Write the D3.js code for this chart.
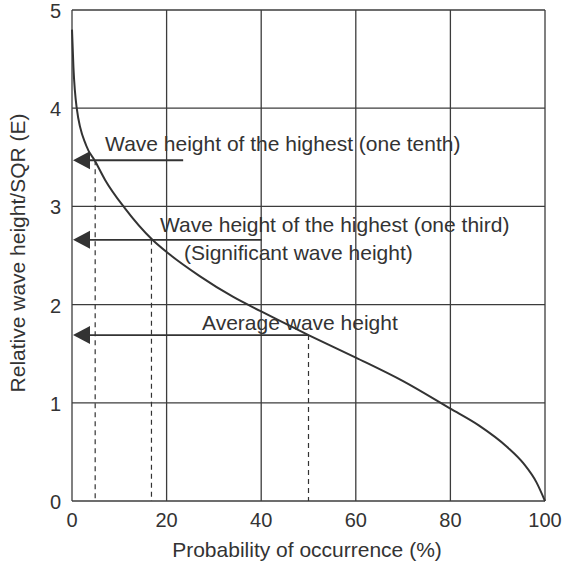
<!DOCTYPE html>
<html>
<head>
<meta charset="utf-8">
<script src="https://cdn.jsdelivr.net/npm/d3@7"></script>
<style>
  html, body { margin: 0; padding: 0; background: #fff; }
  svg { display: block; font-family: "Liberation Sans", Arial, sans-serif; }
</style>
</head>
<body>
<svg id="chart" width="562" height="562"></svg>
<script>
// Curve
const probability = [0, 0.3, 1.0, 3.0, 4.9, 7.0, 11.2, 17.0, 20.4, 27.0, 34.0, 40, 50, 60, 70, 80, 86, 92, 95.5, 98.2, 100];
const waveHeight  = [4.8, 4.42, 4.0, 3.62, 3.46, 3.27, 2.98, 2.66, 2.52, 2.29, 2.08, 1.93, 1.69, 1.46, 1.22, 0.94, 0.77, 0.55, 0.38, 0.19, 0];

const xTicks = [0, 20, 40, 60, 80, 100];
const yTicks = [0, 1, 2, 3, 4, 5];

// Annotations: arrow level, arrow end, dashed line position, text lines
const annLevel  = [3.47, 2.66, 1.69];
const annEnd    = [23.5, 40.1, 50];
const annDash   = [4.9, 16.8, 50];
const annText   = [["Wave height of the highest (one tenth)"],
                   ["Wave height of the highest (one third)", "(Significant wave height)"],
                   ["Average wave height"]];
const annTextX  = [7.0, 18.6, 27.5];
const annTextY  = [3.56, 2.74, 1.74];

const svg = d3.select("#chart");
const x = d3.scaleLinear().domain([0, 100]).range([72, 545]);
const y = d3.scaleLinear().domain([0, 5]).range([501, 10]);

const gridColor = "#3c3c3c";
const ink = "#333";

// grid
const g = svg.append("g");
g.selectAll(".vg").data(xTicks).join("line")
  .attr("x1", d => x(d)).attr("x2", d => x(d))
  .attr("y1", y(0)).attr("y2", y(5))
  .attr("stroke", gridColor).attr("stroke-width", 1.3);
g.selectAll(".hg").data(yTicks).join("line")
  .attr("x1", x(0)).attr("x2", x(100))
  .attr("y1", d => y(d)).attr("y2", d => y(d))
  .attr("stroke", gridColor).attr("stroke-width", 1.3);

// tick labels
g.selectAll(".xt").data(xTicks).join("text")
  .attr("x", d => x(d)).attr("y", 527)
  .attr("text-anchor", "middle").attr("font-size", 20).attr("fill", ink)
  .text(d => d);
g.selectAll(".yt").data(yTicks).join("text")
  .attr("x", 61).attr("y", d => y(d) + 8)
  .attr("text-anchor", "end").attr("font-size", 20).attr("fill", ink)
  .text(d => d);

// axis titles
svg.append("text")
  .attr("x", 307).attr("y", 557)
  .attr("text-anchor", "middle").attr("font-size", 21).attr("fill", ink)
  .text("Probability of occurrence (%)");
svg.append("text")
  .attr("transform", `translate(25,253) rotate(-90)`)
  .attr("text-anchor", "middle").attr("font-size", 21).attr("fill", ink)
  .text("Relative wave height/SQR (E)");

// dashed lines
svg.selectAll(".dash").data(annDash).join("line")
  .attr("x1", d => x(d)).attr("x2", d => x(d))
  .attr("y1", (d, i) => y(annLevel[i])).attr("y2", y(0))
  .attr("stroke", ink).attr("stroke-width", 1.2)
  .attr("stroke-dasharray", "5,4");

// arrows
svg.selectAll(".arr").data(annLevel).join("line")
  .attr("x1", x(0) + 12).attr("x2", (d, i) => x(annEnd[i]))
  .attr("y1", d => y(d)).attr("y2", d => y(d))
  .attr("stroke", ink).attr("stroke-width", 1.8);
svg.selectAll(".head").data(annLevel).join("path")
  .attr("d", d => `M${x(0) + 1},${y(d)} L${x(0) + 18},${y(d) - 9} L${x(0) + 18},${y(d) + 9} Z`)
  .attr("fill", ink);

// curve
const line = d3.line()
  .x((d, i) => x(probability[i]))
  .y(d => y(d))
  .curve(d3.curveMonotoneX);
svg.append("path")
  .datum(waveHeight)
  .attr("d", line)
  .attr("fill", "none").attr("stroke", ink).attr("stroke-width", 2);

// annotation text
annText.forEach((lines, i) => {
  const t = svg.append("text")
    .attr("font-size", 21).attr("fill", ink);
  lines.forEach((s, j) => {
    t.append("tspan")
      .attr("x", x(annTextX[i]) + (j > 0 ? 24 : 0))
      .attr("y", y(annTextY[i]) + j * 28)
      .text(s);
  });
});
</script>
</body>
</html>
